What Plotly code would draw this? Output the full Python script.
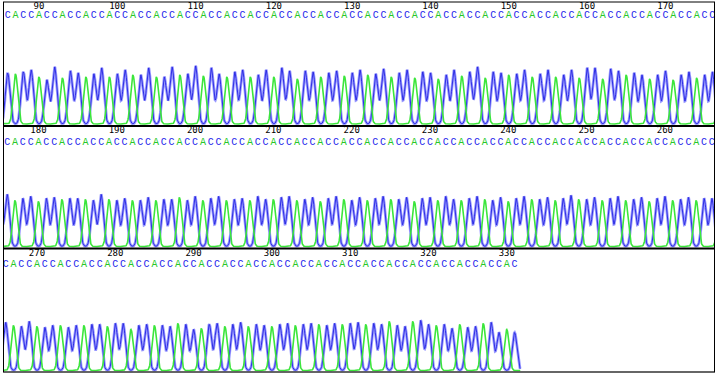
import numpy as np
import plotly.graph_objects as go

# ---------------- data ----------------
FIRST_BASE = 86
LAST_BASE = 331

# base calls, bases 86..331 (chunks of 30)
base_calls = [
    "CACCACCACCACCACCACCACCACCACCAC",  # 86-115
    "CACCACCACCACCACCACCACCACCACCAC",  # 116-145
    "CACCACCACCACCACCACCACCACCACCAC",  # 146-175
    "CACCACCACCACCACCACCACCACCACCAC",  # 176-205
    "CACCACCACCACCACCACCACCACCACCAC",  # 206-235
    "CACCACCACCACCACCACCACCACCACCAC",  # 236-265
    "CACCACCACCACCACCACCACCACCACCAC",  # 266-295
    "CACCACCACCACCACCACCACCACCACCAC",  # 296-325
    "CACCAC",                          # 326-331
]

# peak height of the called base (signal units), bases 86..331
heights_086_115 = [51, 50, 52, 54, 47, 44, 57, 46, 53, 51, 47, 50, 56, 47, 50,
                   54, 49, 49, 56, 47, 47, 57, 49, 50, 58, 48, 56, 50, 47, 52]
heights_116_146 = [54, 47, 49, 54, 47, 56, 53, 45, 53, 52, 47, 51, 53, 48, 51, 54,
                   49, 50, 55, 47, 51, 54, 46, 52, 51, 45, 49, 54, 48, 52, 57]
heights_147_176 = [46, 52, 51, 49, 50, 54, 47, 50, 54, 47, 49, 54, 46, 56, 56,
                   45, 55, 53, 49, 51, 49, 45, 49, 53, 44, 49, 52, 46, 49, 52]
heights_177_205 = [46, 48, 50, 45, 48, 49, 47, 48, 48, 47, 46, 52, 47, 46, 48,
                   46, 46, 49, 46, 47, 47, 49, 46, 50, 46, 48, 50, 46, 47]
heights_206_265 = [48, 46, 50, 47, 47, 49, 50, 46, 47, 49, 45, 48, 50, 47, 46,
                   49, 46, 48, 50, 47, 47, 49, 45, 48, 49, 46, 50, 47, 46, 48,
                   50, 47, 46, 49, 45, 48, 50, 47, 47, 49, 46, 48, 51, 47, 47,
                   49, 46, 48, 50, 46, 47, 49, 45, 48, 50, 46, 47, 49, 46, 48]
heights_266_296 = [48, 45, 44, 49, 44, 43, 45, 45, 43, 45, 45, 46, 46, 44, 47, 47,
                   41, 45, 46, 45, 45, 44, 47, 46, 41, 42, 46, 47, 44, 46, 48]
heights_297_313 = [44, 46, 45, 44, 46, 47, 45, 46, 47, 46, 45, 47, 46, 47, 48, 46, 47]
heights_314_331 = [46, 49, 45, 44, 49, 50, 46, 45, 46, 42, 46, 43, 44, 47, 48, 38, 41, 38]

# position labels along the top of each row
tick_positions = [90, 100, 110, 120, 130, 140, 150, 160, 170,
                  180, 190, 200, 210, 220, 230, 240, 250, 260,
                  270, 280, 290, 300, 310, 320, 330]
tick_labels = [str(t) for t in tick_positions]

# ---------------- assemble ----------------
seq = "".join(base_calls)
heights = (heights_086_115 + heights_116_146 + heights_147_176 + heights_177_205 +
           heights_206_265 + heights_266_296 + heights_297_313 + heights_314_331)
bases = list(range(FIRST_BASE, FIRST_BASE + len(seq)))
n = min(len(seq), len(heights))
seq, heights, bases = seq[:n], heights[:n], bases[:n]

SIGMA = 0.29
xs = np.arange(FIRST_BASE - 1.0, LAST_BASE + 0.75, 0.04)
c_sig = np.zeros_like(xs)
a_sig = np.zeros_like(xs)
for b, s, h in zip(bases, seq, heights):
    g = h * np.exp(-((xs - b) ** 2) / (2 * SIGMA ** 2))
    if s == "C":
        c_sig += g
    else:
        a_sig += g

# ---------------- layout geometry (pixels) ----------------
W, H = 718, 378
PX_PER_BASE = 7.83
X_LEFT, X_RIGHT = 4, 714
rows = [
    # (label base, pixel x of label, top px, bottom px, baseline px, num y px, letter y px)
    (90, 39.0, 2.0, 126.0, 124.0, 6.5, 15.5),
    (180, 38.5, 126.0, 248.5, 246.5, 131.0, 142.0),
    (270, 37.0, 248.5, 372.0, 370.5, 254.0, 264.0),
]

fig = go.Figure()
layout_axes = {}
for i, (lb, lx, top, bot, base, ny, ly) in enumerate(rows):
    k = "" if i == 0 else str(i + 1)
    xr = [lb - (lx - X_LEFT) / PX_PER_BASE, lb + (X_RIGHT - lx) / PX_PER_BASE]
    yr = [-(bot - base), base - top]
    layout_axes["xaxis" + k] = dict(domain=[X_LEFT / W, X_RIGHT / W], range=xr,
                                    visible=False, anchor="y" + k)
    layout_axes["yaxis" + k] = dict(domain=[1 - bot / H, 1 - top / H], range=yr,
                                    visible=False, anchor="x" + k)
    xa, ya = "x" + k, "y" + k
    # blue (C) trace: light halo + core
    fig.add_trace(go.Scatter(x=xs, y=c_sig, mode="lines", xaxis=xa, yaxis=ya,
                             line=dict(color="rgb(155,155,255)", width=2.8),
                             hoverinfo="skip", showlegend=False))
    fig.add_trace(go.Scatter(x=xs, y=c_sig, mode="lines", xaxis=xa, yaxis=ya,
                             line=dict(color="rgb(35,35,225)", width=0.9),
                             hoverinfo="skip", showlegend=False))
    # green (A) trace
    fig.add_trace(go.Scatter(x=xs, y=a_sig, mode="lines", xaxis=xa, yaxis=ya,
                             line=dict(color="rgb(60,230,60)", width=1.6),
                             hoverinfo="skip", showlegend=False))
    # position numbers (only those inside this row)
    tp = [(t, l) for t, l in zip(tick_positions, tick_labels) if xr[0] < t < xr[1]]
    fig.add_trace(go.Scatter(x=[t for t, _ in tp], y=[base - ny] * len(tp),
                             text=[l for _, l in tp], mode="text", xaxis=xa, yaxis=ya,
                             textfont=dict(family="DejaVu Sans Mono", size=9, color="black"),
                             hoverinfo="skip", showlegend=False))
    # base calls whose centre falls inside this row
    sel = [j for j, b in enumerate(bases) if xr[0] < b < xr[1]]
    colors = ["rgb(30,30,235)" if seq[j] == "C" else "rgb(40,200,40)" for j in sel]
    fig.add_trace(go.Scatter(x=[bases[j] for j in sel], y=[base - ly] * len(sel),
                             text=[seq[j] for j in sel], mode="text", xaxis=xa, yaxis=ya,
                             textfont=dict(family="Liberation Mono", size=10, color=colors),
                             cliponaxis=False,
                             hoverinfo="skip", showlegend=False))


def hline(ypx, x0=3, x1=715, w=1, c="black"):
    return dict(type="line", xref="paper", yref="paper", x0=x0 / W, x1=x1 / W,
                y0=1 - ypx / H, y1=1 - ypx / H, line=dict(color=c, width=w))


def vline(xpx, y0=2, y1=372, w=1, c="black"):
    return dict(type="line", xref="paper", yref="paper", x0=xpx / W, x1=xpx / W,
                y0=1 - y0 / H, y1=1 - y1 / H, line=dict(color=c, width=w))


shapes = [
    hline(2.0),
    hline(126.0, w=2),
    hline(248.5, w=2),
    hline(372.0, w=1.5, c="#333"),
    vline(3.5),
    vline(714.5),
]

fig.update_layout(width=W, height=H, margin=dict(l=0, r=0, t=0, b=0),
                  paper_bgcolor="white", plot_bgcolor="white",
                  shapes=shapes, **layout_axes)
fig.write_html("out.html", config={"displayModeBar": False},
               post_script="document.body.style.margin='0';document.body.style.padding='0';")
